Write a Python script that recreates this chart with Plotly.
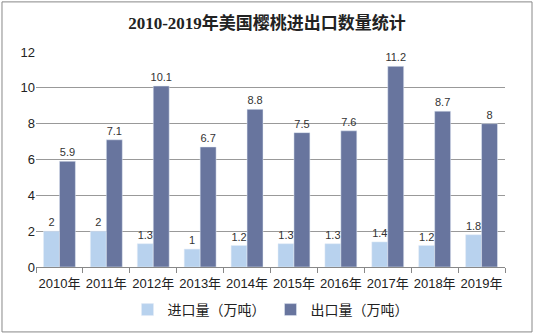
import plotly.graph_objects as go

years = ["2010年", "2011年", "2012年", "2013年", "2014年", "2015年", "2016年", "2017年", "2018年", "2019年"]
imports = [2, 2, 1.3, 1, 1.2, 1.3, 1.3, 1.4, 1.2, 1.8]
exports = [5.9, 7.1, 10.1, 6.7, 8.8, 7.5, 7.6, 11.2, 8.7, 8]
yticks = [0, 2, 4, 6, 8, 10, 12]

font_cjk = "Noto Sans CJK SC, DejaVu Sans, sans-serif"

fig = go.Figure()
fig.add_trace(go.Bar(
    x=years, y=imports, name="进口量（万吨）",
    marker=dict(color="#B8D2EE"),
    text=[str(v) for v in imports], textposition="outside", constraintext="none",
    textfont=dict(size=11, color="#333333", family="Liberation Sans, sans-serif"), cliponaxis=False,
))
fig.add_trace(go.Bar(
    x=years, y=exports, name="出口量（万吨）",
    marker=dict(color="#68759E"),
    text=[str(v) for v in exports], textposition="outside", constraintext="none",
    textfont=dict(size=11, color="#333333", family="Liberation Sans, sans-serif"), cliponaxis=False,
))

fig.update_layout(
    width=534, height=335,
    margin=dict(l=36, r=29, t=52, b=68, autoexpand=False),
    paper_bgcolor="white", plot_bgcolor="white",
    barmode="group", bargap=0.32, bargroupgap=0,
    uniformtext=dict(minsize=11, mode="show"),
    title=dict(text="<b>2010-2019年美国樱桃进出口数量统计</b>", x=0.5, xanchor="center",
               y=0.93, yanchor="middle",
               font=dict(family="Liberation Serif, Noto Sans CJK SC, serif", size=17, color="#222222")),
    font=dict(family=font_cjk, size=12, color="#333333"),
    legend=dict(orientation="h", x=0.5, xanchor="center", y=-0.2, yanchor="middle",
                font=dict(size=14, color="#222222"), itemwidth=30, traceorder="normal",
                tracegroupgap=0),
    shapes=[dict(type="rect", xref="paper", yref="paper", x0=-0.0725, x1=1.0576, y0=-0.302, y1=1.233,
                 line=dict(color="#888888", width=1))],
)
fig.update_xaxes(showline=True, linecolor="#888888", ticks="outside", tickson="boundaries",
                 ticklen=5, tickcolor="#888888", tickangle=0, automargin=False,
                 ticklabelstandoff=4,
                 tickfont=dict(size=13, color="#222222",
                               family="Liberation Sans, Noto Sans CJK SC, sans-serif"))
fig.update_yaxes(range=[0, 12], tickvals=yticks, showgrid=True, gridcolor="#999999", gridwidth=1,
                 zeroline=False, showline=False, automargin=False,
                 tickfont=dict(size=13, color="#222222", family="Liberation Sans, sans-serif"))

fig.write_html("out.html")
